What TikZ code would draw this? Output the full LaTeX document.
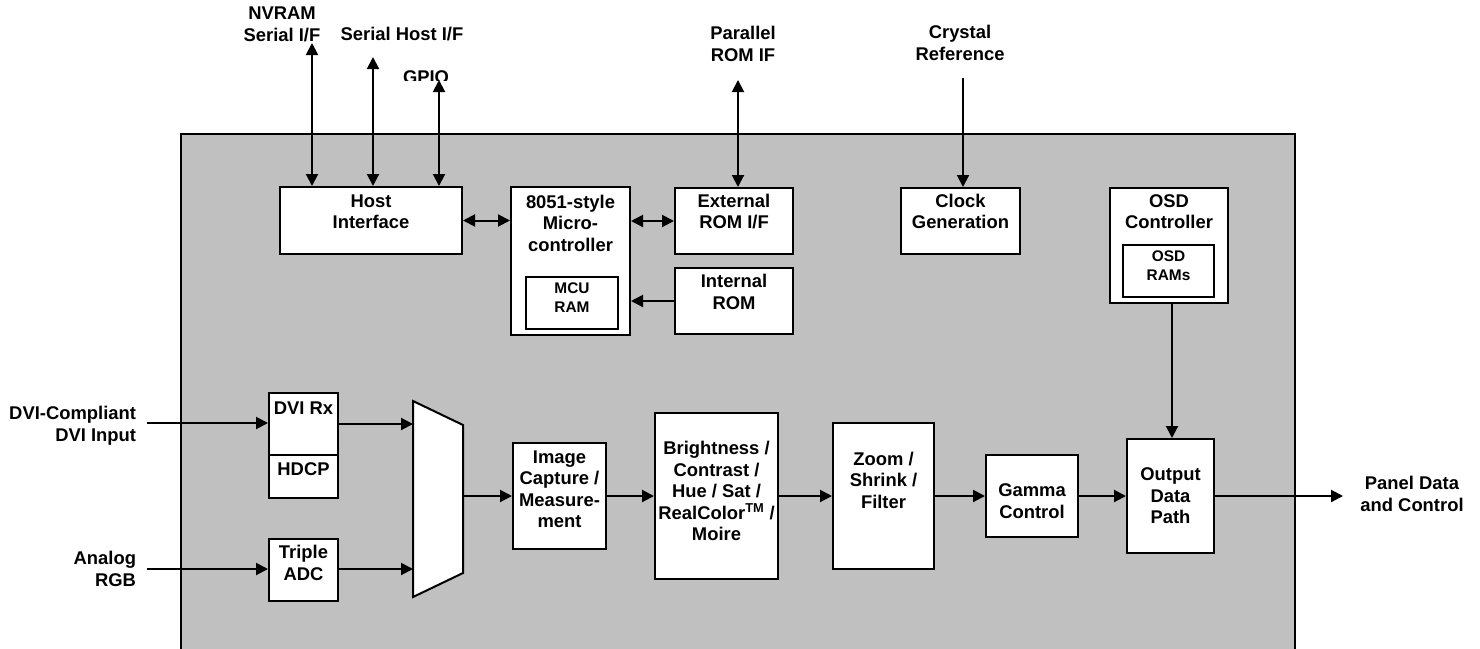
\documentclass[tikz,border=0pt]{standalone}
\usepackage{fontspec}
\setmainfont{Liberation Sans}
\usetikzlibrary{arrows.meta}
\definecolor{chipgray}{RGB}{192,192,192}
\begin{document}
\begin{tikzpicture}[x=1pt,y=-1pt,
  line width=2pt,
  >={Triangle[length=12pt,width=12pt]},
  box/.style={draw=black, fill=white, line width=2pt, inner sep=0pt},
  txt/.style={inner sep=0pt, align=center, font=\bfseries\fontsize{18.4}{21.5}\selectfont,
    execute at begin node=\strut, execute at end node=\strut},
  stxt/.style={txt, font=\bfseries\fontsize{15.4}{19}\selectfont}
]
\useasboundingbox (0,0) rectangle (1480,648);
\begin{scope}
  \clip (0,0) rectangle (1480,648);
  \node[draw=black, fill=chipgray, line width=2pt, inner sep=0pt, anchor=north west,
        minimum width=1114, minimum height=567] (chip) at (180,133) {};
\end{scope}

% ---------- boxes ----------
\node[box, minimum width=182, minimum height=67]  (host)   at (371,220.5) {};
\node[box, minimum width=119, minimum height=148] (mcu)    at (570.5,261) {};
\node[box, minimum width=92,  minimum height=52]  (mcuram) at (572,303) {};
\node[box, minimum width=118, minimum height=66]  (ext)    at (734,221) {};
\node[box, minimum width=118, minimum height=66]  (irom)   at (734,301) {};
\node[box, minimum width=119, minimum height=66]  (clock)  at (960.5,221) {};
\node[box, minimum width=118, minimum height=115] (osd)    at (1169,245.5) {};
\node[box, minimum width=91,  minimum height=52]  (osdram) at (1168.5,271) {};
\node[box, minimum width=69,  minimum height=105] (dvi)    at (303.5,445.5) {};
\node[box, minimum width=69,  minimum height=62]  (adc)    at (303.5,570) {};
\node[box, minimum width=93,  minimum height=106] (ic)     at (559.5,496) {};
\node[box, minimum width=123, minimum height=166] (bright) at (716.5,496) {};
\node[box, minimum width=101, minimum height=146] (zoom)   at (883.5,496) {};
\node[box, minimum width=92,  minimum height=82]  (gamma)  at (1032,496) {};
\node[box, minimum width=87,  minimum height=114] (out)    at (1170.5,496) {};

\draw (dvi.west |- 0,455) -- (dvi.east |- 0,455);

% multiplexer
\coordinate (muxtl) at (413,401);
\coordinate (muxtr) at (463,425);
\coordinate (muxbr) at (463,573);
\coordinate (muxbl) at (413,597);
\draw[fill=white] (muxtl) -- (muxtr) -- (muxbr) -- (muxbl) -- cycle;
\coordinate (muxin1) at (413,424);
\coordinate (muxin2) at (413,569);
\coordinate (muxout) at (463,496);

% ---------- box texts ----------
\node[txt]  (host-t)   at (371,214.8)   {Host\\Interface};
\node[txt]  (mcu-t)    at (570.5,226.3) {8051-style\\Micro-\\controller};
\node[stxt] (mcuram-t) at (572,300.2)   {MCU\\RAM};
\node[txt]  (ext-t)    at (734,214.8)   {External\\ROM I/F};
\node[txt]  (irom-t)   at (734,295.3)   {Internal\\ROM};
\node[txt]  (clock-t)  at (960.5,214.8) {Clock\\Generation};
\node[txt]  (osd-t)    at (1169,214.8)  {OSD\\Controller};
\node[stxt] (osdram-t) at (1168.5,268.2) {OSD\\RAMs};
\node[txt]  (dvi-t)    at (303.5,410.3) {DVI Rx};
\node[txt]  (hdcp-t)   at (303.5,471.3) {HDCP};
\node[txt]  (adc-t)    at (303.5,565.8) {Triple\\ADC};
\node[txt]  (ic-t)     at (559.5,492.5) {Image\\Capture /\\Measure-\\ment};
\node[txt]  (bright-t) at (716.5,494.1) {Brightness /\\Contrast /\\Hue / Sat /\\RealColor\textsuperscript{TM} /\\Moire};
\node[txt]  (zoom-t)   at (883.5,483.3) {Zoom /\\Shrink /\\Filter};
\node[txt]  (gamma-t)  at (1032,504.3)  {Gamma\\Control};
\node[txt]  (out-t)    at (1170.5,499)  {Output\\Data\\Path};

% ---------- outside labels ----------
\node[txt] (nvram-l)  at (282,27.5)  {NVRAM\\Serial I/F};
\node[txt] (serial-l) at (402,36.3)  {Serial Host I/F};
\begin{scope}
  \clip (380,55) rectangle (470,80);
  \node[txt] (gpio-l) at (426,78.8) {GPIO};
\end{scope}
\node[txt] (prom-l)   at (743,47.3)  {Parallel\\ROM IF};
\node[txt] (xtal-l)   at (960,46.3)  {Crystal\\Reference};
\node[txt, align=right, anchor=east] (dvi-l) at (137,427.3) {DVI-Compliant\\DVI Input};
\node[txt, align=right, anchor=east] (rgb-l) at (137,571.8) {Analog\\RGB};
\node[txt] (panel-l)  at (1412,497.1) {Panel Data\\and Control};

% ---------- connectors ----------
\coordinate (nv) at (312,43);
\coordinate (sh) at (373,57);
\coordinate (gp) at (439,80);
\coordinate (pr) at (738,80);
\coordinate (xt) at (963,78);
\coordinate (dviin) at (147,423);
\coordinate (agin) at (147,569);
\coordinate (panel) at (1343,496);

\draw[<->] (nv) -- (nv |- host.north);
\draw[<->] (sh) -- (sh |- host.north);
\draw[<->] (gp) -- (gp |- host.north);
\draw[<->] (host.east) -- (host.east -| mcu.west);
\draw[<->] (ext.west) -- (ext.west -| mcu.east);
\draw[->] (irom.west) -- (irom.west -| mcu.east);
\draw[<->] (pr) -- (pr |- ext.north);
\draw[->] (xt) -- (xt |- clock.north);
\draw[->] ([xshift=3pt]osd.south) -- ([xshift=3pt]osd.south |- out.north);

\draw[->] (dviin) -- (dviin -| dvi.west);
\draw[->] (agin) -- (agin -| adc.west);
\draw[->] (muxin1 -| dvi.east) -- (muxin1);
\draw[->] (muxin2 -| adc.east) -- (muxin2);
\draw[->] (muxout) -- (muxout -| ic.west);
\draw[->] (ic.east) -- (bright.west);
\draw[->] (bright.east) -- (zoom.west);
\draw[->] (zoom.east) -- (gamma.west);
\draw[->] (gamma.east) -- (out.west);
\draw[->] (out.east) -- (panel);
\end{tikzpicture}
\end{document}
